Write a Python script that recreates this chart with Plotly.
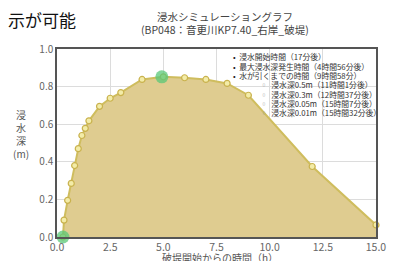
import plotly.graph_objects as go

# Data (hours since breach, inundation depth m)
hours = [0.28, 0.33, 0.5, 0.67, 0.83, 1.0, 1.17, 1.33, 1.5, 2.0, 2.5, 3.0, 4.0, 5.0, 6.0, 7.0, 8.0, 9.0, 12.0, 15.0]
depth = [0.0, 0.09, 0.195, 0.285, 0.38, 0.47, 0.54, 0.578, 0.618, 0.695, 0.738, 0.768, 0.838, 0.852, 0.847, 0.838, 0.817, 0.754, 0.375, 0.064]
event_hours = [0.28, 4.93]
event_depth = [0.0, 0.852]

legend_main = ["浸水開始時間（17分後）", "最大浸水深発生時間（4時間56分後）", "水が引くまでの時間（9時間58分）"]
legend_sub = ["浸水深0.5m（11時間1分後）", "浸水深0.3m（12時間37分後）", "浸水深0.05m（15時間7分後）", "浸水深0.01m（15時間32分後）"]

title_lines = ["浸水シミュレーショングラフ", "(BP048：音更川KP7.40_右岸_破堤)"]
x_title = "破堤開始からの時間（h）"
y_title = "浸<br>水<br>深<br>(m)"
x_ticks = [0, 2.5, 5.0, 7.5, 10.0, 12.5, 15.0]
x_ticktext = ["0.0", "2.5", "5.0", "7.5", "10.0", "12.5", "15.0"]
y_ticks = [0, 0.2, 0.4, 0.6, 0.8, 1.0]
y_ticktext = ["0.0", "0.2", "0.4", "0.6", "0.8", "1.0"]

FONT = "Noto Sans CJK JP"
OFF = 8  # default page body margin; figure + margins fills the 401x269 window
W, H = 401 - 2 * OFF, 269 - 2 * OFF
L, T = 57 - OFF, 49 - OFF
R = W - L - 329
B = H - T - 191
PW, PH = W - L - R, H - T - B


def px(sx):
    # window x -> paper x
    return (sx - OFF - L) / PW


def py(sy):
    # window y -> paper y
    return (H - B - (sy - OFF)) / PH


fig = go.Figure()
fig.add_trace(go.Scatter(
    x=hours, y=depth, mode="lines+markers", fill="tozeroy",
    fillcolor="#dfcc90",
    line=dict(color="#cfbd5e", width=2),
    marker=dict(size=6, color="#f3eca8", line=dict(color="#c9b24e", width=1.2)),
    cliponaxis=False, showlegend=False, hoverinfo="skip"))
fig.add_trace(go.Scatter(
    x=event_hours, y=event_depth, mode="markers",
    marker=dict(size=13, color="rgba(90,200,120,0.75)", line=dict(width=0)),
    cliponaxis=False, showlegend=False, hoverinfo="skip"))


def note(text, sx, sy, size, color, xanchor="center"):
    return dict(text=text, x=px(sx), y=py(sy), xref="paper", yref="paper",
                xanchor=xanchor, yanchor="middle", showarrow=False, borderpad=0,
                font=dict(size=size, color=color, family=FONT))


ann = []
ann.append(note(title_lines[0], 230, 15.5, 10.5, "#444"))
ann.append(note(title_lines[1], 230, 29, 10.5, "#444"))
ann.append(note("示が可能", 5, 19, 17, "#111", xanchor="left"))
ann.append(note(y_title, 20, 135, 10, "#555"))
ann.append(note(x_title, 225, 261, 10, "#555"))

ys = [57, 66.5, 76, 85.5, 95, 104.5, 114]
for i, t in enumerate(legend_main):
    ann.append(note("<span style='color:#222'>•</span>  " + t, 237, ys[i], 7.8, "#333", xanchor="left"))
for j, t in enumerate(legend_sub):
    ann.append(note("<span style='color:#999'>▫</span>  " + t, 265, ys[3 + j], 7.8, "#333", xanchor="left"))

fig.update_layout(
    width=W, height=H, margin=dict(l=L, r=R, t=T, b=B),
    paper_bgcolor="white", plot_bgcolor="white",
    annotations=ann,
    xaxis=dict(range=[0, 15], tickvals=x_ticks, ticktext=x_ticktext,
               showgrid=True, gridcolor="#dcdcdc", gridwidth=1, zeroline=False,
               showline=True, linecolor="#555", linewidth=1.5, mirror=True, ticks="",
               ticklabeloverflow="allow",
               tickfont=dict(size=10.5, color="#666", family=FONT)),
    yaxis=dict(range=[0, 1.0], tickvals=y_ticks, ticktext=y_ticktext,
               showgrid=True, gridcolor="#dcdcdc", gridwidth=1, zeroline=False,
               showline=True, linecolor="#555", linewidth=1.5, mirror=True, ticks="",
               tickfont=dict(size=10, color="#666", family=FONT)),
)

fig.write_html("out.html", config={"displayModeBar": False})
